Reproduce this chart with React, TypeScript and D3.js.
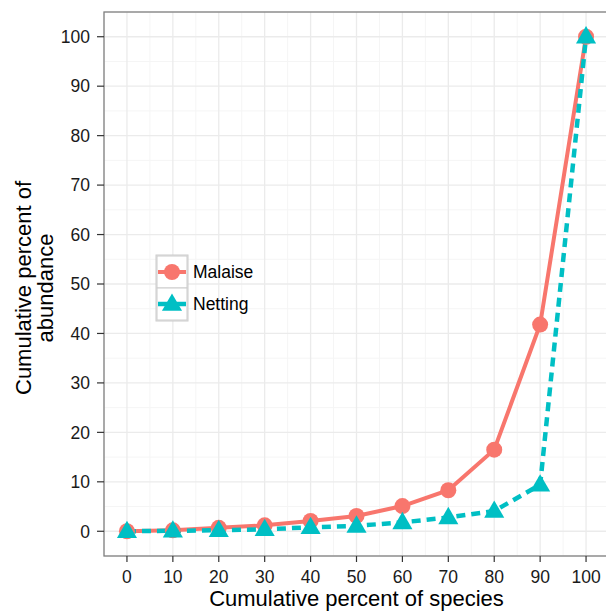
import React from "react";
import * as d3 from "d3";

const speciesPct = [0, 10, 20, 30, 40, 50, 60, 70, 80, 90, 100];
const malaise = [0, 0.2, 0.7, 1.2, 2.1, 3.1, 5.1, 8.3, 16.5, 41.8, 100];
const netting = [0, 0.1, 0.2, 0.4, 0.8, 1.1, 1.8, 2.8, 4.1, 9.4, 100];
const xTicks = [0, 10, 20, 30, 40, 50, 60, 70, 80, 90, 100];
const yTicks = [0, 10, 20, 30, 40, 50, 60, 70, 80, 90, 100];

const W = 606, H = 612;
const margin = { top: 12, right: -3, bottom: 56, left: 104 };
const font = "'Liberation Sans', Arial, Helvetica, sans-serif";
const red = "#F8766D", teal = "#00BFC4";

export default function App() {
  const pw = W - margin.left - margin.right;
  const ph = H - margin.top - margin.bottom;
  const x = d3.scaleLinear().domain([-5, 105]).range([0, pw]);
  const y = d3.scaleLinear().domain([-5, 105]).range([ph, 0]);

  const line = d3.line<[number, number]>().x(d => x(d[0])).y(d => y(d[1]));
  const mal = speciesPct.map((s, i) => [s, malaise[i]] as [number, number]);
  const net = speciesPct.map((s, i) => [s, netting[i]] as [number, number]);
  const tri = d3.symbol().type(d3.symbolTriangle).size(175)();
  const minor = d3.range(-5, 106, 10);

  return (
    <svg width={W} height={H} style={{ position: "absolute", left: 0, top: 0, background: "#fff" }}>
      <rect width={W} height={H} fill="#fff" />
      <g transform={`translate(${margin.left},${margin.top})`}>
        <rect width={pw} height={ph} fill="#fff" />
        {minor.map(v => (
          <g key={"m" + v}>
            <line x1={x(v)} x2={x(v)} y1={0} y2={ph} stroke="#f5f5f5" strokeWidth={1} />
            <line x1={0} x2={pw} y1={y(v)} y2={y(v)} stroke="#f5f5f5" strokeWidth={1} />
          </g>
        ))}
        {xTicks.map(v => (
          <line key={"gx" + v} x1={x(v)} x2={x(v)} y1={0} y2={ph} stroke="#ebebeb" strokeWidth={1.3} />
        ))}
        {yTicks.map(v => (
          <line key={"gy" + v} x1={0} x2={pw} y1={y(v)} y2={y(v)} stroke="#ebebeb" strokeWidth={1.3} />
        ))}
        <path d={line(mal) || ""} fill="none" stroke={red} strokeWidth={4} />
        <path d={line(net) || ""} fill="none" stroke={teal} strokeWidth={4.5} strokeDasharray="9,6" />
        {mal.map((d, i) => (
          <circle key={"c" + i} cx={x(d[0])} cy={y(d[1])} r={8} fill={red} />
        ))}
        {net.map((d, i) => (
          <path key={"t" + i} d={tri || ""} transform={`translate(${x(d[0])},${y(d[1]) + 1})`} fill={teal} />
        ))}
        <rect width={pw} height={ph} fill="none" stroke="#7f7f7f" strokeWidth={1.3} />
        {xTicks.map(v => (
          <g key={"xt" + v} transform={`translate(${x(v)},${ph})`}>
            <line y1={0} y2={6} stroke="#333" strokeWidth={1.2} />
            <text y={27} textAnchor="middle" fontFamily={font} fontSize={17.5} fill="#1a1a1a">{v}</text>
          </g>
        ))}
        {yTicks.map(v => (
          <g key={"yt" + v} transform={`translate(0,${y(v)})`}>
            <line x1={-7} x2={0} stroke="#333" strokeWidth={1.2} />
            <text x={-14} dy="0.36em" textAnchor="end" fontFamily={font} fontSize={17.5} fill="#1a1a1a">{v}</text>
          </g>
        ))}
        <g transform="translate(52,243)">
          <rect x={0} y={0} width={32} height={66} fill="#f2f2f2" stroke="#cccccc" strokeWidth={1} />
          <rect x={1} y={1} width={30} height={32} fill="#fff" stroke="#cccccc" strokeWidth={1} />
          <rect x={1} y={33} width={30} height={32} fill="#fff" stroke="#cccccc" strokeWidth={1} />
          <line x1={2} x2={30} y1={17} y2={17} stroke={red} strokeWidth={4} />
          <circle cx={16} cy={17} r={8} fill={red} />
          <line x1={2} x2={30} y1={49} y2={49} stroke={teal} strokeWidth={4.5} />
          <path d={tri || ""} transform="translate(16,50)" fill={teal} />
          <text x={37} y={17} dy="0.36em" fontFamily={font} fontSize={17.5} fill="#000">Malaise</text>
          <text x={37} y={49} dy="0.36em" fontFamily={font} fontSize={17.5} fill="#000">Netting</text>
        </g>
      </g>
      <text x={margin.left + x(50)} y={606} textAnchor="middle" fontFamily={font} fontSize={22} fill="#000">Cumulative percent of species</text>
      <g transform={`translate(0,288)`}>
        <text transform="rotate(-90)" x={0} y={31} textAnchor="middle" fontFamily={font} fontSize={22} fill="#000">Cumulative percent of</text>
        <text transform="rotate(-90)" x={0} y={53} textAnchor="middle" fontFamily={font} fontSize={22} fill="#000">abundance</text>
      </g>
    </svg>
  );
}
